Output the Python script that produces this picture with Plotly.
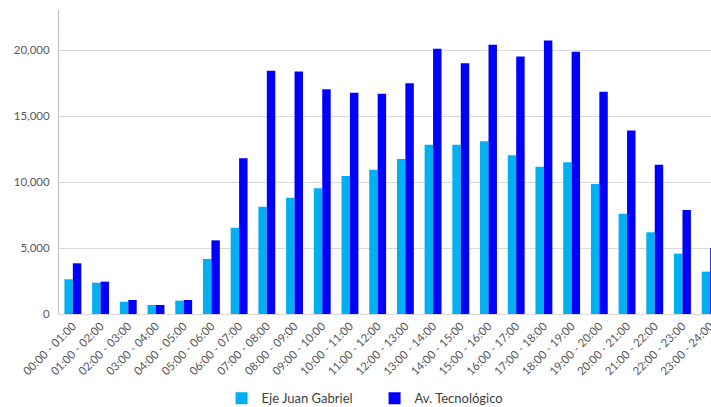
import plotly.graph_objects as go

# Hourly traffic counts by time slot
hours = [
    "00:00 - 01:00", "01:00 - 02:00", "02:00 - 03:00", "03:00 - 04:00",
    "04:00 - 05:00", "05:00 - 06:00", "06:00 - 07:00", "07:00 - 08:00",
    "08:00 - 09:00", "09:00 - 10:00", "10:00 - 11:00", "11:00 - 12:00",
    "12:00 - 13:00", "13:00 - 14:00", "14:00 - 15:00", "15:00 - 16:00",
    "16:00 - 17:00", "17:00 - 18:00", "18:00 - 19:00", "19:00 - 20:00",
    "20:00 - 21:00", "21:00 - 22:00", "22:00 - 23:00", "23:00 - 24:00",
]
eje_juan_gabriel = [
    2630, 2370, 930, 680, 1010, 4170, 6540, 8130, 8810, 9520, 10450, 10930,
    11740, 12830, 12830, 13080, 12020, 11160, 11490, 9850, 7600, 6190, 4570, 3210,
]
av_tecnologico = [
    3840, 2450, 1060, 680, 1060, 5580, 11790, 18430, 18380, 17020, 16770, 16690,
    17480, 20100, 18990, 20400, 19500, 20710, 19870, 16840, 13910, 11310, 7880, 5000,
]

fig = go.Figure()
fig.add_trace(go.Bar(x=hours, y=eje_juan_gabriel, name="Eje Juan Gabriel",
                     marker=dict(color="#00B0F0", line=dict(width=0))))
fig.add_trace(go.Bar(x=hours, y=av_tecnologico, name="Av. Tecnológico",
                     marker=dict(color="#0000FF", line=dict(width=0))))

font_family = "Lato, 'Noto Sans', sans-serif"

fig.update_layout(
    width=711, height=407,
    margin=dict(l=59, r=0, t=10, b=93, autoexpand=False),
    paper_bgcolor="white", plot_bgcolor="white",
    barmode="group", bargap=0.39, bargroupgap=0,
    font=dict(family=font_family, size=11, color="#595959"),
    showlegend=True,
    legend=dict(orientation="h", x=0.484, xanchor="center", y=-0.277, yanchor="middle",
                font=dict(size=13, color="#404040"), itemwidth=30,
                entrywidth=108, entrywidthmode="pixels",
                traceorder="normal"),
    xaxis=dict(
        type="category", tickangle=-45, range=[-0.5, 23.03], automargin=False,
        showgrid=False, showline=True, linecolor="#D9D9D9", linewidth=1,
        ticks="", tickfont=dict(size=11.5, color="#595959"),
    ),
    yaxis=dict(
        range=[0, 23030], dtick=5000, tickformat=",d", automargin=False,
        showgrid=True, gridcolor="#D9D9D9", gridwidth=1,
        showline=True, linecolor="#BFBFBF", linewidth=1,
        zeroline=False, ticks="", ticklabelstandoff=6,
        tickfont=dict(size=11.5, color="#595959"),
    ),
)

fig.write_html("out.html")
